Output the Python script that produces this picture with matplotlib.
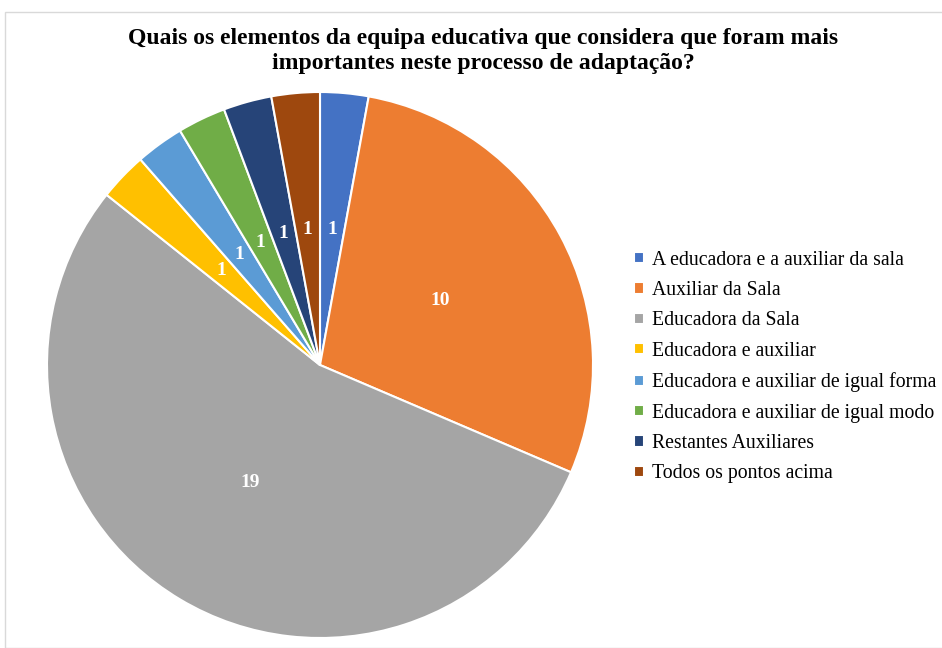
import matplotlib.pyplot as plt
from matplotlib.patches import Rectangle

plt.rcParams['font.family'] = ['Liberation Serif', 'DejaVu Serif']

labels = ["A educadora e a auxiliar da sala", "Auxiliar da Sala", "Educadora da Sala",
          "Educadora e auxiliar", "Educadora e auxiliar de igual forma",
          "Educadora e auxiliar de igual modo", "Restantes Auxiliares", "Todos os pontos acima"]
values = [1, 10, 19, 1, 1, 1, 1, 1]
colors = ["#4472C4", "#ED7D31", "#A5A5A5", "#FFC000", "#5B9BD5", "#70AD47", "#264478", "#9E480E"]

W, H = 942, 648
fig = plt.figure(figsize=(W / 100, H / 100), dpi=100)

# thin gray frame like the Excel chart area
fig.patches.append(Rectangle((5 / W, 0), 1, 1 - 12 / H, transform=fig.transFigure,
                             fill=False, edgecolor="#d9d9d9", linewidth=1))

r = 273
cx, cy = 320, H - 365
ax = fig.add_axes([(cx - r) / W, (cy - r) / H, 2 * r / W, 2 * r / H])

wedges, texts = ax.pie(values, colors=colors, startangle=90, counterclock=False,
                       labels=[str(v) for v in values], labeldistance=0.5,
                       wedgeprops=dict(edgecolor="white", linewidth=1.5))
for t in texts:
    t.set_color("white")
    t.set_fontweight("bold")
    t.set_fontsize(14)
    t.set_ha("center")
    t.set_va("center")
ax.set_xlim(-1, 1)
ax.set_ylim(-1, 1)
ax.set_aspect("equal")

fig.text(483 / W, 1 - 51 / H, "Quais os elementos da equipa educativa que considera que foram mais\nimportantes neste processo de adaptação?",
         ha="center", va="center", fontsize=17, fontweight="bold", linespacing=1.25)

fig.legend(wedges, labels, loc="center left", bbox_to_anchor=(624 / W, 1 - 367 / H),
           frameon=False, fontsize=14.2, handlelength=0.5, handleheight=0.5,
           handletextpad=0.4, labelspacing=0.58, borderpad=0)

fig.savefig("out.png", dpi=100)
